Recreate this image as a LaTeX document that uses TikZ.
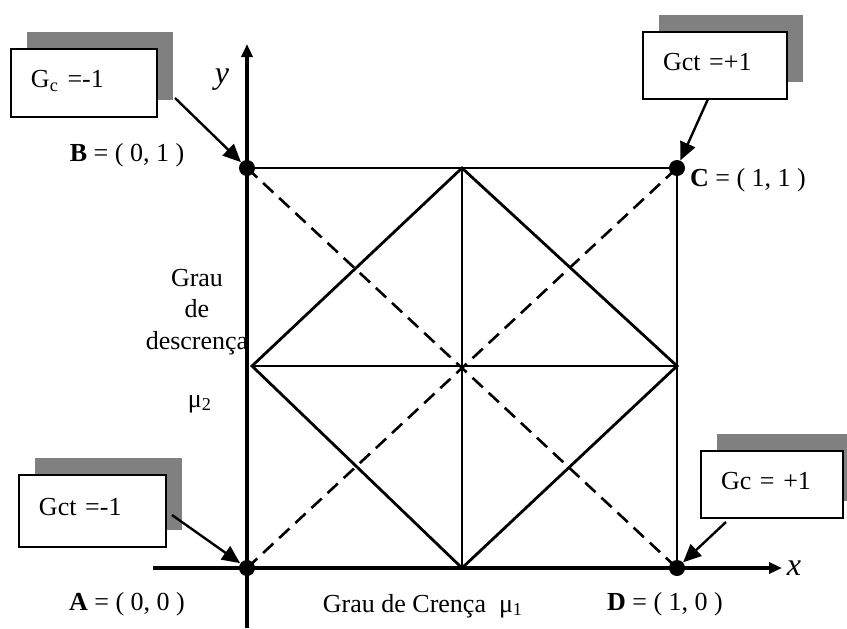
\documentclass[tikz,border=0pt]{standalone}
\usepackage{fontspec}
\setmainfont{Liberation Serif}
\usetikzlibrary{shadows,arrows.meta}
\definecolor{shadowgray}{HTML}{808080}
\begin{document}
\begin{tikzpicture}[x=0.5pt,y=-0.5pt,
  every node/.style={font=\fontsize{13}{15.6}\selectfont},
  axis/.style={line width=1.6pt,-{Triangle[length=6.5pt,width=5.5pt]}},
  edge/.style={line width=1.4pt},
  dsh/.style={line width=1.3pt,dash pattern=on 7pt off 4pt},
  dot/.style={circle,fill=black,inner sep=0pt,minimum size=8pt},
  box/.style={draw,line width=1.1pt,fill=white,minimum height=34pt,inner xsep=10pt,
    text width=53pt,align=left,text depth=4pt,
    drop shadow={shadow xshift=8pt,shadow yshift=8.5pt,fill=shadowgray,opacity=1}},
  arr/.style={line width=1.2pt,-{Triangle[length=9pt,width=8pt]}},
  lbl/.style={inner sep=1pt}
]
\useasboundingbox (0,0) rectangle (847,628);

% key points
\coordinate (A) at (247,568);
\coordinate (B) at (247,168);
\coordinate (C) at (677,168);
\coordinate (D) at (677,568);
\coordinate (Mt) at (462,168);
\coordinate (Mr) at (677,366);
\coordinate (Mb) at (462,568);
\coordinate (Ml) at (252,366);
\coordinate (ybot) at (247,628);
\coordinate (ytop) at (247,44);
\coordinate (xleft) at (153,568);
\coordinate (xright) at (782,568);

% axes
\draw[axis] (ybot) -- (ytop);
\draw[axis] (xleft) -- (xright);

% square
\draw[edge] (B) -- (C) -- (D);
% diamond
\draw[edge] (Mt) -- (Mr) -- (Mb) -- (Ml) -- cycle;
\draw[edge] (Ml) -- (Mr);
\draw[edge] (Mt) -- (Mb);
% diagonals
\draw[dsh] (A) -- (C);
\draw[dsh] (B) -- (D);

% dots
\node[dot] (Ad) at (A) {};
\node[dot] (Bd) at (B) {};
\node[dot] (Cd) at (C) {};
\node[dot] (Dd) at (D) {};

% axis labels
\node[lbl] (ylab) at (222,80) {\fontsize{16}{18}\selectfont\itshape y};
\node[lbl] (xlab) at (794,568) {\fontsize{16}{18}\selectfont\itshape x};

% point labels
\node[lbl] (Alab) at (127,604) {\textbf{A} = ( 0, 0 )};
\node[lbl] (Blab) at (127,155) {\textbf{B} = ( 0, 1 )};
\node[lbl] (Clab) at (748,180) {\textbf{C} = ( 1, 1 )};
\node[lbl] (Dlab) at (665,604) {\textbf{D} = ( 1, 0 )};

% axis titles
\node[lbl,align=center] (ytitle) at (197,312) {Grau\\de\\descrença};
\node[lbl] (mu2) at (200,404) {μ\textsubscript{2}};
\node[lbl] (xtitle) at (423,606) {Grau de Crença\ \ μ\textsubscript{1}};

% boxes
\node[box,minimum height=34pt] (b1) at (84,83) {G\textsubscript{c} =-1};
\node[box,minimum height=33.5pt,text width=52pt] (b2) at (715,65.5) {Gct =+1};
\node[box,minimum height=36pt,text width=53.5pt] (b3) at (92.5,511) {Gct =-1};
\node[box,minimum height=33.5pt,text width=51pt] (b4) at (772,484.5) {Gc = +1};

% arrows
\coordinate (s1) at (175,98);
\coordinate (s2) at (708,99);
\coordinate (s3) at (172,515);
\coordinate (s4) at (726,522);
\draw[arr] (s1) -- (Bd);
\draw[arr] (s2) -- (Cd);
\draw[arr] (s3) -- (Ad);
\draw[arr] (s4) -- (Dd);
\end{tikzpicture}
\end{document}
